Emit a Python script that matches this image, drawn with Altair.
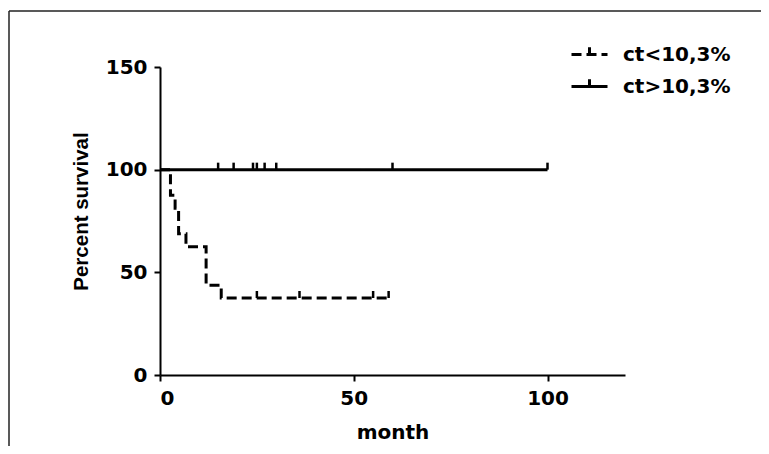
import altair as alt
import pandas as pd

# ---- data ----
low_label = "ct<10,3%"
high_label = "ct>10,3%"

low_time = [0, 2.7, 3.9, 4.8, 6.7, 11.9, 15.8, 59]
low_surv = [100, 87.5, 81.25, 68.75, 62.5, 43.75, 37.5, 37.5]
low_censor_time = [25, 36, 55, 59]
low_censor_surv = [37.5, 37.5, 37.5, 37.5]

high_time = [0, 100]
high_surv = [100, 100]
high_censor_time = [15, 19, 24, 25, 27, 30, 60, 100]
high_censor_surv = [100] * 8

x_ticks = [0, 50, 100]
y_ticks = [0, 50, 100, 150]

curves = pd.DataFrame({
    "month": low_time + high_time,
    "surv": low_surv + high_surv,
    "group": [low_label] * len(low_time) + [high_label] * len(high_time),
})
censors = pd.DataFrame({
    "month": low_censor_time + high_censor_time,
    "surv": low_censor_surv + high_censor_surv,
})

FONT_H = "DejaVu Sans"
FONT_V = "Liberation Sans"

x_enc = alt.X("month:Q", scale=alt.Scale(domain=[0, 120], nice=False),
              axis=alt.Axis(values=x_ticks, title="month", titlePadding=14))
y_enc = alt.Y("surv:Q", scale=alt.Scale(domain=[0, 150], nice=False),
              axis=alt.Axis(values=y_ticks, title="Percent survival",
                            titleFont=FONT_V, titleFontSize=20.5, titlePadding=14,
                            titleY=144))

lines = alt.Chart(curves).mark_line(
    interpolate="step-after", strokeWidth=3, color="black"
).encode(
    x=x_enc,
    y=y_enc,
    strokeDash=alt.StrokeDash(
        "group:N",
        scale=alt.Scale(domain=[low_label, high_label], range=[[10, 5], [1, 0]]),
        legend=alt.Legend(
            title=None, orient="none", legendX=410, legendY=-32,
            symbolType="M-1,0H1M0,0V-0.4", symbolSize=1296, symbolStrokeWidth=3,
            symbolStrokeColor="black", symbolFillColor="transparent",
            labelFont=FONT_H, labelFontWeight="bold", labelFontSize=20,
            labelColor="black", labelOffset=14, rowPadding=2, padding=0,
        ),
    ),
)

ticks = alt.Chart(censors).mark_rule(
    color="black", strokeWidth=2.5, yOffset=-7
).encode(x="month:Q", y="surv:Q", y2="surv:Q")

frame_df = pd.DataFrame({"k": [0]})
frame_left = alt.Chart(frame_df).mark_rule(color="#222222", strokeWidth=1.5).encode(
    x=alt.value(-151), y=alt.value(-56), y2=alt.value(400))
frame_top = alt.Chart(frame_df).mark_rule(color="#222222", strokeWidth=1.5).encode(
    x=alt.value(-151), x2=alt.value(620), y=alt.value(-56))

chart = alt.layer(frame_left, frame_top, lines, ticks).properties(
    width=465, height=308,
    autosize=alt.AutoSizeParams(type="none"),
    padding={"left": 152, "top": 59, "right": 136, "bottom": 71},
).configure_view(stroke=None).configure_axis(
    grid=False,
    domainColor="black", domainWidth=2,
    tickColor="black", tickWidth=2, tickSize=6,
    labelFont=FONT_H, labelFontWeight="bold", labelFontSize=20, labelColor="black",
    labelPadding=7,
    titleFont=FONT_H, titleFontWeight="bold", titleFontSize=20, titleColor="black",
)

chart.save("out.html", embed_options={"renderer": "svg", "actions": False})
